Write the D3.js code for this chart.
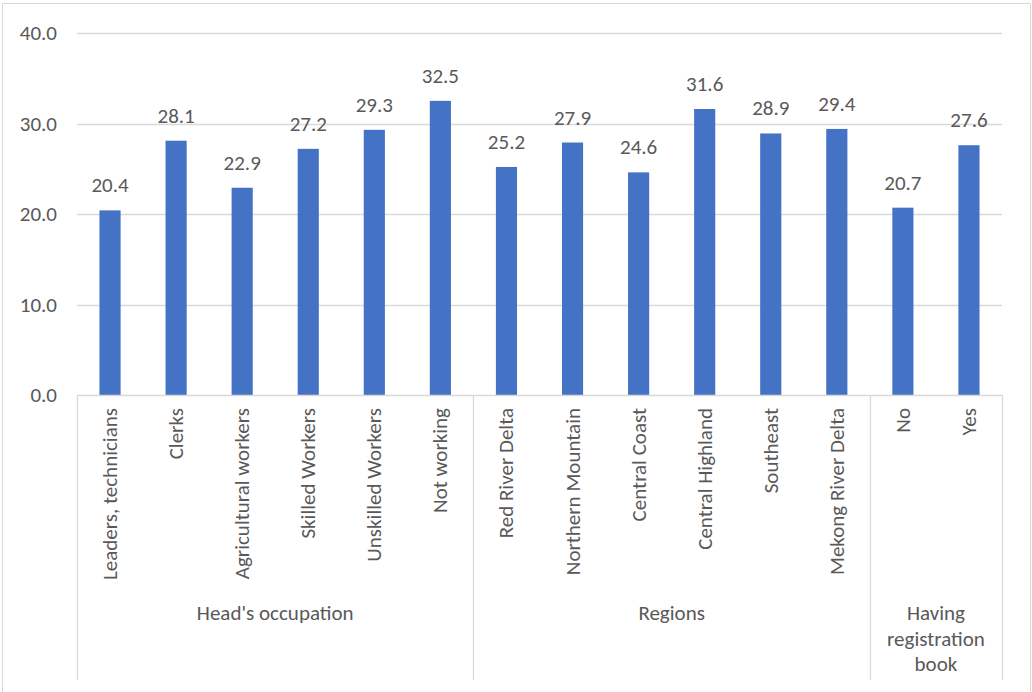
<!DOCTYPE html>
<html>
<head>
<meta charset="utf-8">
<script src="https://cdn.jsdelivr.net/npm/d3@7"></script>
<style>
  html, body { margin: 0; padding: 0; background: #fff; }
  svg { display: block; }
  text { font-family: Carlito, "Open Sans", sans-serif; fill: #595959; }
</style>
</head>
<body>
<svg id="chart" width="1032" height="692"></svg>
<script>
// Categories, values and the groups they belong to
const categories = [
  "Leaders, technicians", "Clerks", "Agricultural workers", "Skilled Workers",
  "Unskilled Workers", "Not working",
  "Red River Delta", "Northern Mountain", "Central Coast", "Central Highland",
  "Southeast", "Mekong River Delta",
  "No", "Yes"
];
const values = [20.4, 28.1, 22.9, 27.2, 29.3, 32.5, 25.2, 27.9, 24.6, 31.6, 28.9, 29.4, 20.7, 27.6];
const groupNames = ["Head's occupation", "Regions", "Having registration book"];
const groupSizes = [6, 6, 2];
const yTicks = [0, 10, 20, 30, 40];

(function () {
  const svg = d3.select("#chart");
  const H = 692;
  const plotLeft = 77, plotRight = 1002, plotTop = 33, axisY = 395, bottomLine = 680;
  const fs = 21;

  // outer chart border
  svg.append("path")
    .attr("d", `M2.5,${H + 2}V3.5H1030.5V${H + 2}`)
    .attr("fill", "none").attr("stroke", "#d9d9d9").attr("stroke-width", 1);

  const x = d3.scaleBand().domain(categories).range([plotLeft, plotRight])
    .paddingInner(0.68).paddingOuter(0.34);
  const y = d3.scaleLinear().domain([0, 40]).range([axisY, plotTop]);

  // gridlines
  svg.append("g").selectAll("line").data(yTicks.filter(d => d > 0)).join("line")
    .attr("x1", plotLeft).attr("x2", plotRight)
    .attr("y1", d => Math.round(y(d)) + 0.5).attr("y2", d => Math.round(y(d)) + 0.5)
    .attr("stroke", "#d9d9d9").attr("stroke-width", 1.3);

  // y axis tick labels
  const yAxis = d3.axisLeft(y).tickValues(yTicks).tickFormat(d3.format(".1f")).tickSize(0).tickPadding(20);
  const gy = svg.append("g").attr("transform", `translate(${plotLeft},0)`).call(yAxis);
  gy.select(".domain").remove();
  gy.selectAll("text").attr("font-size", fs).attr("fill", "#595959")
    .style("font-family", 'Carlito, "Open Sans", sans-serif');

  // bars
  svg.append("g").selectAll("rect").data(values).join("rect")
    .attr("x", (d, i) => x(categories[i]))
    .attr("width", x.bandwidth())
    .attr("y", d => y(d))
    .attr("height", d => y(0) - y(d))
    .attr("fill", "#4472c4");

  // data labels
  svg.append("g").selectAll("text").data(values).join("text")
    .attr("x", (d, i) => x(categories[i]) + x.bandwidth() / 2)
    .attr("y", d => y(d) - 18)
    .attr("text-anchor", "middle")
    .attr("font-size", fs)
    .text(d => d3.format(".1f")(d));

  // category axis baseline
  svg.append("line")
    .attr("x1", plotLeft).attr("x2", plotRight).attr("y1", axisY + 0.5).attr("y2", axisY + 0.5)
    .attr("stroke", "#d9d9d9").attr("stroke-width", 1.3);

  // rotated category labels
  svg.append("g").selectAll("text").data(categories).join("text")
    .attr("transform", d => `translate(${x(d) + x.bandwidth() / 2 + 7},${axisY + 13}) rotate(-90)`)
    .attr("text-anchor", "end")
    .attr("font-size", fs)
    .text(d => d);

  // group separators and group labels
  const step = x.step();
  let count = 0;
  const bounds = [plotLeft];
  groupSizes.forEach(n => { count += n; bounds.push(plotLeft + step * count); });
  svg.append("g").selectAll("line").data(bounds).join("line")
    .attr("x1", d => Math.round(d) + 0.5).attr("x2", d => Math.round(d) + 0.5)
    .attr("y1", axisY).attr("y2", bottomLine)
    .attr("stroke", "#d9d9d9").attr("stroke-width", 1.3);

  const groupLines = [["Head's occupation"], ["Regions"], ["Having", "registration", "book"]];
  groupNames.forEach((g, i) => {
    const cx = (bounds[i] + bounds[i + 1]) / 2;
    const t = svg.append("text").attr("text-anchor", "middle").attr("font-size", fs)
      .attr("x", cx).attr("y", 620);
    groupLines[i].forEach((ln, j) => {
      t.append("tspan").attr("x", cx).attr("dy", j === 0 ? 0 : 25.5).text(ln);
    });
  });
})();
</script>
</body>
</html>
